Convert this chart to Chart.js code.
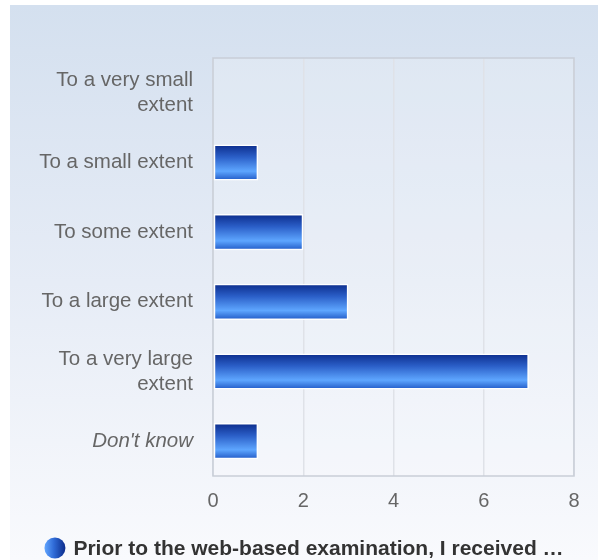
<!DOCTYPE html>
<html>
<head>
<meta charset="utf-8">
<script src="https://cdn.jsdelivr.net/npm/chart.js@4"></script>
<style>
  html, body { margin: 0; padding: 0; background: #fff; }
  #wrap {
    position: absolute; left: 10px; top: 5px; width: 588px; height: 555px;
    background: linear-gradient(to bottom, #d4e0ef 0%, #e6ecf6 50%, #f9fafd 100%);
  }
</style>
</head>
<body>
<div id="wrap"><canvas id="chart" width="588" height="555"></canvas></div>
<script>
const categories = [
    ['To a very small', 'extent'],
    'To a small extent',
    'To some extent',
    'To a large extent',
    ['To a very large', 'extent'],
    "Don't know"
];
const counts = [0, 1, 2, 3, 7, 1];
const xTicks = [0, 2, 4, 6, 8];
const seriesName = 'Prior to the web-based examination, I received \u2026';

const ctx = document.getElementById('chart').getContext('2d');

// vertical gradient for each bar, based on where its category sits
function barGradient(context) {
    const chart = context.chart;
    const yScale = chart.scales.y;
    if (!chart.chartArea || !yScale) return '#2a62c9';
    const center = yScale.getPixelForValue(context.dataIndex);
    const half = (yScale.height / categories.length) * 0.26;
    const g = chart.ctx.createLinearGradient(0, center - half, 0, center + half);
    g.addColorStop(0, '#0b2b8a');
    g.addColorStop(0.35, '#2b5fc8');
    g.addColorStop(0.74, '#5ea6ff');
    g.addColorStop(1, '#1f57c4');
    return g;
}

// plot area fill + border
const plotFrame = {
    id: 'plotFrame',
    beforeDatasetsDraw(chart) {
        const a = chart.chartArea;
        const c = chart.ctx;
        c.save();
        c.strokeStyle = '#c9ced7';
        c.lineWidth = 1.5;
        c.strokeRect(a.left, a.top, a.right - a.left, a.bottom - a.top);
        c.restore();
    },
    beforeDraw(chart) {
        const a = chart.chartArea;
        const c = chart.ctx;
        c.save();
        c.fillStyle = 'rgba(255,255,255,0.18)';
        c.fillRect(a.left, a.top, a.right - a.left, a.bottom - a.top);
        c.restore();
    }
};

// legend drawn at the bottom with a sphere-like marker
const bottomLegend = {
    id: 'bottomLegend',
    afterDraw(chart) {
        const c = chart.ctx;
        const y = 543;
        c.save();
        c.font = 'bold 21px Arial, "Liberation Sans", sans-serif';
        const tw = c.measureText(seriesName).width;
        const r = 10.5;
        const gap = 8;
        const total = r * 2 + gap + tw;
        const x0 = (chart.width - total) / 2;
        const g = c.createLinearGradient(x0, 0, x0 + r * 2, 0);
        g.addColorStop(0, '#62a6ff');
        g.addColorStop(0.45, '#2f6ad6');
        g.addColorStop(1, '#0b2b8a');
        c.fillStyle = g;
        c.beginPath();
        c.arc(x0 + r, y, r, 0, Math.PI * 2);
        c.fill();
        c.fillStyle = '#333333';
        c.textBaseline = 'middle';
        c.textAlign = 'left';
        c.fillText(seriesName, x0 + r * 2 + gap, y + 1);
        c.restore();
    }
};

new Chart(ctx, {
    type: 'bar',
    data: {
        labels: categories,
        datasets: [{
            label: seriesName,
            data: counts,
            backgroundColor: barGradient,
            borderColor: '#ffffff',
            borderWidth: 1.5,
            borderSkipped: false,
            barPercentage: 0.52,
            categoryPercentage: 1.0
        }]
    },
    options: {
        indexAxis: 'y',
        responsive: false,
        animation: false,
        layout: { padding: { top: 53, right: 24, left: 0, bottom: 0 } },
        scales: {
            x: {
                min: 0,
                max: 8,
                afterBuildTicks: (scale) => { scale.ticks = xTicks.map(v => ({ value: v })); },
                afterFit: (scale) => { scale.height = 84; },
                grid: { color: '#dfe2e8', lineWidth: 1.5, drawTicks: false },
                border: { display: false },
                ticks: {
                    padding: 13,
                    color: '#666666',
                    font: { family: 'Arial, "Liberation Sans", sans-serif', size: 20 }
                }
            },
            y: {
                afterFit: (scale) => { scale.width = 203; },
                grid: { display: false, drawTicks: false },
                border: { display: false },
                ticks: {
                    padding: 20,
                    color: '#666666',
                    font: (c) => ({
                        family: 'Arial, "Liberation Sans", sans-serif',
                        size: 20.5,
                        lineHeight: 1.22,
                        style: c.index === 5 ? 'italic' : 'normal'
                    })
                }
            }
        },
        plugins: {
            legend: { display: false },
            tooltip: { enabled: false }
        }
    },
    plugins: [plotFrame, bottomLegend]
});
</script>
</body>
</html>
